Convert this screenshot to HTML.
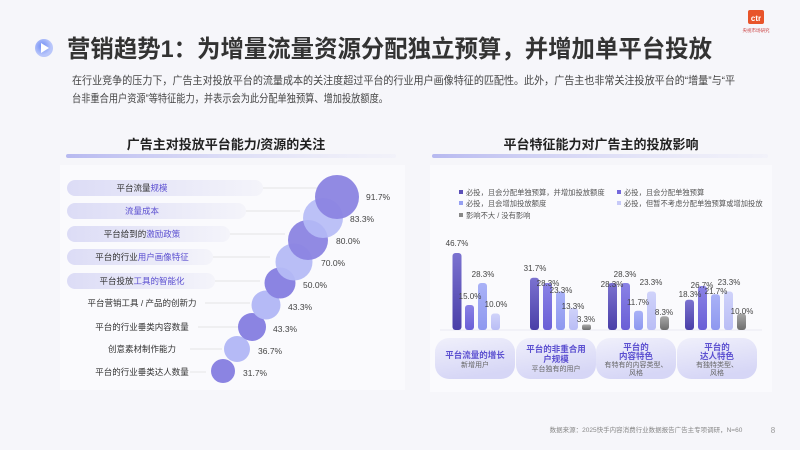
<!DOCTYPE html>
<html><head><meta charset="utf-8"><style>
body{margin:0;width:800px;height:450px;overflow:hidden;background:#f6f6fa;font-family:"Liberation Sans","Noto Sans CJK SC",sans-serif;}
svg{display:block}
</style></head><body>
<svg width="800" height="450" viewBox="0 0 800 450" xmlns="http://www.w3.org/2000/svg" font-family="Liberation Sans, Noto Sans CJK SC, sans-serif">
<defs>
<linearGradient id="tb" x1="0" x2="1"><stop offset="0" stop-color="#b7b9f0"/><stop offset="1" stop-color="#e8e8f8" stop-opacity="0.3"/></linearGradient>
<linearGradient id="pill" x1="0" x2="1"><stop offset="0" stop-color="#dcdcf6"/><stop offset="1" stop-color="#f4f4fa"/></linearGradient>
<linearGradient id="gb" x1="0" y1="0" x2="0.3" y2="1"><stop offset="0" stop-color="#f0f0fb"/><stop offset="1" stop-color="#d6d6f6"/></linearGradient>
<linearGradient id="b1" x1="0" y1="0" x2="0" y2="1"><stop offset="0" stop-color="#7b72d0"/><stop offset="1" stop-color="#4a3fa8"/></linearGradient>
<linearGradient id="b2" x1="0" y1="0" x2="0" y2="1"><stop offset="0" stop-color="#8a82e6"/><stop offset="1" stop-color="#6a5fd6"/></linearGradient>
<linearGradient id="b3" x1="0" y1="0" x2="0" y2="1"><stop offset="0" stop-color="#a9b2f7"/><stop offset="1" stop-color="#8e98ef"/></linearGradient>
<linearGradient id="b4" x1="0" y1="0" x2="0" y2="1"><stop offset="0" stop-color="#d0d3fa"/><stop offset="1" stop-color="#b9bdf5"/></linearGradient>
<linearGradient id="b5" x1="0" y1="0" x2="0" y2="1"><stop offset="0" stop-color="#a8a8a8"/><stop offset="1" stop-color="#6e6e6e"/></linearGradient>
<radialGradient id="ic" cx="0.4" cy="0.4"><stop offset="0" stop-color="#6f8cf5"/><stop offset="1" stop-color="#b9c6fa"/></radialGradient>
</defs>
<!-- logo -->
<rect x="748" y="10" width="16" height="14" rx="2" fill="#e8542a"/>
<text x="756" y="21" font-size="8" fill="#fff" text-anchor="middle" font-weight="bold">ctr</text>
<text x="756" y="32" font-size="4.5" fill="#c44" text-anchor="middle">央视市场研究</text>
<!-- title -->
<circle cx="44" cy="48" r="9" fill="url(#ic)"/>
<path d="M41 43 L49 48 L41 53 Z" fill="#fff"/>
<text x="67" y="57" font-size="24" font-weight="bold" fill="#333" textLength="645" lengthAdjust="spacingAndGlyphs">营销趋势1：为增量流量资源分配独立预算，并增加单平台投放</text>
<text x="72" y="84" font-size="10.6" fill="#444" textLength="663" lengthAdjust="spacingAndGlyphs">在行业竞争的压力下，广告主对投放平台的流量成本的关注度超过平台的行业用户画像特征的匹配性。此外，广告主也非常关注投放平台的“增量”与“平</text>
<text x="72" y="102" font-size="10.6" fill="#444" textLength="316" lengthAdjust="spacingAndGlyphs">台非重合用户资源”等特征能力，并表示会为此分配单独预算、增加投放额度。</text>

<!-- left panel -->
<text x="226" y="149" font-size="13" font-weight="bold" fill="#222" text-anchor="middle">广告主对投放平台能力/资源的关注</text>
<rect x="66" y="154" width="330" height="4" rx="2" fill="url(#tb)"/>
<rect x="60" y="165" width="345" height="225" fill="#fafafd"/>
<g font-size="8.5" fill="#333" text-anchor="middle">
<rect x="67" y="180" width="196" height="16" rx="8" fill="url(#pill)"/>
<text x="142" y="191">平台流量<tspan fill="#5b4fd0">规模</tspan></text>
<rect x="67" y="203" width="179" height="16" rx="8" fill="url(#pill)"/>
<text x="142" y="214" fill="#5b4fd0">流量成本</text>
<rect x="67" y="226" width="163" height="16" rx="8" fill="url(#pill)"/>
<text x="142" y="237">平台给到的<tspan fill="#5b4fd0">激励政策</tspan></text>
<rect x="67" y="249" width="146" height="16" rx="8" fill="url(#pill)"/>
<text x="142" y="260">平台的行业<tspan fill="#5b4fd0">用户画像特征</tspan></text>
<rect x="67" y="273" width="148" height="16" rx="8" fill="url(#pill)"/>
<text x="142" y="284">平台投放<tspan fill="#5b4fd0">工具的智能化</tspan></text>
<text x="142" y="306">平台营销工具 / 产品的创新力</text>
<text x="142" y="330">平台的行业垂类内容数量</text>
<text x="142" y="352">创意素材制作能力</text>
<text x="142" y="375">平台的行业垂类达人数量</text>
</g>
<g stroke="#ddd" stroke-width="0.7">
<line x1="263" y1="188" x2="320" y2="188"/><line x1="246" y1="211" x2="300" y2="211"/>
<line x1="230" y1="234" x2="285" y2="234"/><line x1="213" y1="257" x2="270" y2="257"/>
<line x1="215" y1="281" x2="260" y2="281"/><line x1="205" y1="303" x2="250" y2="303"/>
<line x1="198" y1="327" x2="238" y2="327"/><line x1="190" y1="349" x2="222" y2="349"/><line x1="190" y1="372" x2="206" y2="372"/>
</g>
<g>
<circle cx="223" cy="371" r="12" fill="#8b84e2"/>
<circle cx="237" cy="349" r="13" fill="#b5baf6"/>
<circle cx="252" cy="327" r="14" fill="#8b84e2"/>
<circle cx="266" cy="305" r="14.5" fill="#b5baf6"/>
<circle cx="280" cy="283" r="15.5" fill="#8b84e2"/>
<circle cx="294" cy="262" r="18.5" fill="#b5baf6" opacity="0.95"/>
<circle cx="308" cy="240" r="20" fill="#8b84e2" opacity="0.95"/>
<circle cx="323" cy="218" r="20" fill="#b5baf6" opacity="0.9"/>
<circle cx="337" cy="197" r="22" fill="#8b84e2" opacity="0.95"/>
</g>
<g font-size="8.5" fill="#444">
<text x="366" y="200">91.7%</text><text x="350" y="222">83.3%</text><text x="336" y="244">80.0%</text>
<text x="321" y="266">70.0%</text><text x="303" y="288">50.0%</text><text x="288" y="310">43.3%</text>
<text x="273" y="332">43.3%</text><text x="258" y="354">36.7%</text><text x="243" y="376">31.7%</text>
</g>

<!-- right panel -->
<text x="601" y="149" font-size="13" font-weight="bold" fill="#222" text-anchor="middle">平台特征能力对广告主的投放影响</text>
<rect x="432" y="154" width="336" height="4" rx="2" fill="url(#tb)"/>
<rect x="430" y="165" width="342" height="227" fill="#fafafd"/>
<g font-size="7.3" fill="#555">
<rect x="459" y="190" width="4" height="4" fill="#5b50b8"/><text x="466" y="195">必投，且会分配单独预算，并增加投放额度</text>
<rect x="617" y="190" width="4" height="4" fill="#7468dc"/><text x="624" y="195">必投，且会分配单独预算</text>
<rect x="459" y="201" width="4" height="4" fill="#96a0f2"/><text x="466" y="206">必投，且会增加投放额度</text>
<rect x="617" y="201" width="4" height="4" fill="#c6c9f8"/><text x="624" y="206">必投，但暂不考虑分配单独预算或增加投放</text>
<rect x="459" y="213" width="4" height="4" fill="#888"/><text x="466" y="218">影响不大 / 没有影响</text>
</g>
<line x1="440" y1="330" x2="762" y2="330" stroke="#e4e4ee" stroke-width="0.7"/>
<g>
<rect x="452.5" y="253" width="9" height="77" rx="3" fill="url(#b1)"/>
<rect x="465" y="305" width="9" height="25" rx="3" fill="url(#b2)"/>
<rect x="478" y="283" width="9" height="47" rx="3" fill="url(#b3)"/>
<rect x="491" y="313.5" width="9" height="16.5" rx="3" fill="url(#b4)"/>
<rect x="530" y="277.7" width="9" height="52.3" rx="3" fill="url(#b1)"/>
<rect x="543" y="283" width="9" height="47" rx="3" fill="url(#b2)"/>
<rect x="556" y="291.5" width="9" height="38.5" rx="3" fill="url(#b3)"/>
<rect x="569" y="308" width="9" height="22" rx="3" fill="url(#b4)"/>
<rect x="582" y="324.5" width="9" height="5.5" rx="2" fill="url(#b5)"/>
<rect x="608" y="283" width="9" height="47" rx="3" fill="url(#b1)"/>
<rect x="621" y="283" width="9" height="47" rx="3" fill="url(#b2)"/>
<rect x="634" y="310.7" width="9" height="19.3" rx="3" fill="url(#b3)"/>
<rect x="647" y="291.5" width="9" height="38.5" rx="3" fill="url(#b4)"/>
<rect x="660" y="316.3" width="9" height="13.7" rx="3" fill="url(#b5)"/>
<rect x="685" y="299.8" width="9" height="30.2" rx="3" fill="url(#b1)"/>
<rect x="698" y="286" width="9" height="44" rx="3" fill="url(#b2)"/>
<rect x="711" y="294.2" width="9" height="35.8" rx="3" fill="url(#b3)"/>
<rect x="724" y="291.5" width="9" height="38.5" rx="3" fill="url(#b4)"/>
<rect x="737" y="313.5" width="9" height="16.5" rx="3" fill="url(#b5)"/>
</g>
<g font-size="8" fill="#444" text-anchor="middle">
<text x="457" y="246">46.7%</text><text x="470" y="299">15.0%</text><text x="483" y="277">28.3%</text><text x="496" y="307">10.0%</text>
<text x="535" y="271">31.7%</text><text x="548" y="286">28.3%</text><text x="561" y="293">23.3%</text><text x="573" y="309">13.3%</text><text x="586" y="322">3.3%</text>
<text x="612" y="287">28.3%</text><text x="625" y="277">28.3%</text><text x="638" y="305">11.7%</text><text x="651" y="285">23.3%</text><text x="664" y="315">8.3%</text>
<text x="690" y="297">18.3%</text><text x="702" y="288">26.7%</text><text x="716" y="294">21.7%</text><text x="729" y="285">23.3%</text><text x="742" y="314">10.0%</text>
</g>
<g>
<rect x="435" y="338" width="80" height="41" rx="14" fill="url(#gb)"/>
<rect x="516" y="338" width="80" height="41" rx="14" fill="url(#gb)"/>
<rect x="596" y="338" width="80" height="41" rx="14" fill="url(#gb)"/>
<rect x="677" y="338" width="80" height="41" rx="14" fill="url(#gb)"/>
</g>
<g text-anchor="middle" font-size="8.5" font-weight="bold" fill="#5b4fd0">
<text x="475" y="358">平台流量的增长</text>
<text x="556" y="352">平台的非重合用</text><text x="556" y="362">户规模</text>
<text x="636" y="350">平台的</text><text x="636" y="359">内容特色</text>
<text x="717" y="350">平台的</text><text x="717" y="359">达人特色</text>
</g>
<g text-anchor="middle" font-size="7" fill="#666">
<text x="475" y="367">新增用户</text>
<text x="556" y="371">平台独有的用户</text>
<text x="636" y="367">有特有的内容类型、</text><text x="636" y="375">风格</text>
<text x="717" y="367">有独特类型、</text><text x="717" y="375">风格</text>
</g>
<text x="646" y="432" font-size="6.5" fill="#888" text-anchor="middle">数据来源：2025快手内容消费行业数据报告广告主专项调研，N=60</text>
<text x="773" y="433" font-size="8" fill="#999" text-anchor="middle">8</text>
</svg>
</body></html>
